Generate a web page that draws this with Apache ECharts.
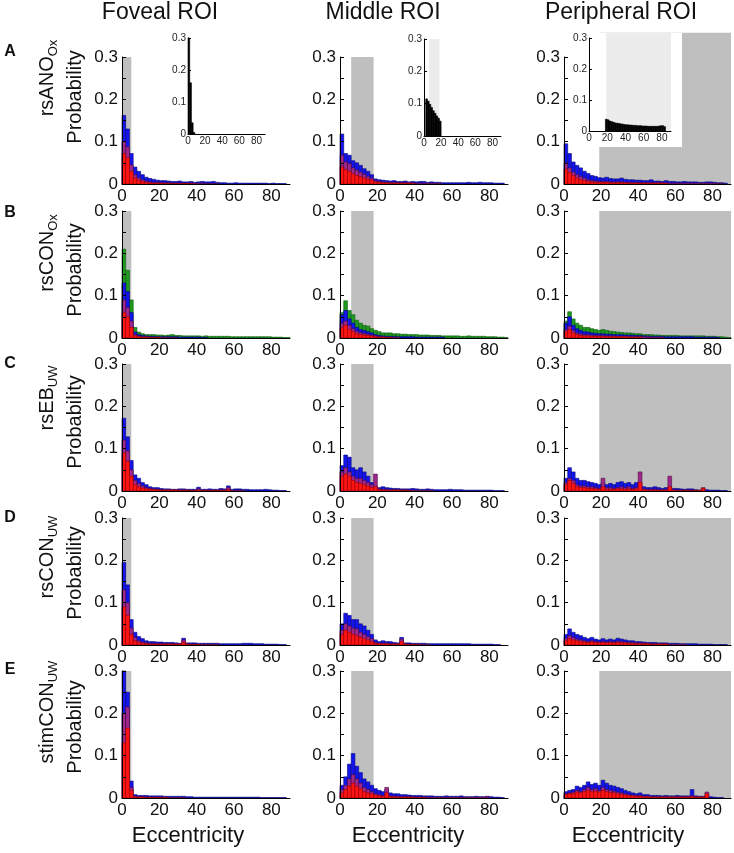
<!DOCTYPE html>
<html>
<head>
<meta charset="utf-8">
<script src="https://cdn.jsdelivr.net/npm/echarts@6/dist/echarts.min.js"></script>
<style>
html, body { margin: 0; padding: 0; background: #fff; }
#chart { width: 734px; height: 853px; }
</style>
</head>
<body>
<div id="chart"></div>
<script>
// histogram bins are 2 deg wide, values in thousandths of probability
var binW = 2;
var colTitles = ['Foveal ROI', 'Middle ROI', 'Peripheral ROI'];
var rowLetters = ['A', 'B', 'C', 'D', 'E'];
var rowNames = ['rsANO', 'rsCON', 'rsEB', 'rsCON', 'stimCON'];
var rowSubs = ['Ox', 'Ox', 'UW', 'UW', 'UW'];
var roiEdges = [[0, 5], [6, 18], [19, 90]];

var A1_blue = [162,130,72,40,30,22,16,13,11,9,8,8,7,6,6,7,5,5,6,4,5,6,5,5,6,4,3,3,2,2,3,2,2,2,2,2,2,2,2,1,2,1,1,1];
var A1_purple = [100,88,45,22,15,10,7,5,4,4,3,3,3,2,2,2,2,2,2,2,2,2,1,1,1,1];
var A1_red = [72,62,30,14,9,6,4,3,2,2,2,1,1,1,1,1,1,1,1];
var A2_blue = [118,72,68,55,50,44,36,30,22,12,10,9,8,7,8,6,6,7,5,6,5,6,6,4,5,4,4,3,3,3,3,3,3,3,4,3,3,4,3,3,3,2,2,2];
var A2_purple = [68,52,48,38,33,28,23,18,14,8,6,5,4,4,4,3,3,3,3,3,2,2,2,2,2,2,2];
var A2_red = [40,34,30,24,20,17,14,11,9,5,4,3,3,2,2,2,2,2,2,1];
var A3_blue = [95,72,52,44,38,30,25,20,18,15,14,16,13,12,12,14,11,10,10,9,9,8,8,10,7,7,6,8,6,6,5,5,6,5,5,5,4,4,5,5,4,3,3,2];
var A3_purple = [50,38,28,22,18,14,10,8,7,6,6,6,5,5,5,5,4,4,4,4,3,3,3,3,3,3,3,3,2,2,2,2,2,2,2,2,2,2,2,2,2,1,1];
var A3_red = [35,27,20,14,10,8,6,5,4,4,4,4,3,3,3,3,3,2,2,2,2,2,2,2,2,2,2,1];

var B1_green = [210,160,90,25,14,10,8,8,8,7,7,6,7,8,6,6,5,5,5,5,5,4,5,4,4,4,4,4,4,3,3,3,3,3,3,3,3,3,3,3,2,2,2,1,1];
var B1_blue = [130,110,60,14,8,6,5,4,4,3,3,3,3,3,3,2,2,2,2,2,2,1,1];
var B1_purple = [90,72,40,8,5,3,3,2,2,2,2,2,1,1,1];
var B1_red = [60,50,25,5,3,2,2,1,1,1];
var B2_green = [60,88,65,55,42,35,30,28,22,18,15,12,12,12,10,10,9,9,8,8,8,7,7,7,6,6,6,5,5,5,5,5,4,4,5,4,4,4,4,3,3,3,2,2,1];
var B2_blue = [55,65,45,35,25,20,18,15,12,8,6,5,4,4,4,3,3,3,3,3,2,2,2,2,2,2,2,2];
var B2_purple = [35,40,30,22,16,13,11,9,7,5,3,3,2,2,2,2];
var B2_red = [25,30,20,15,10,8,7,6,5,3,2,2,1,1];
var B3_green = [40,62,45,35,30,25,25,22,20,18,20,18,16,15,14,13,12,12,11,10,10,8,8,8,7,7,6,6,6,6,6,5,5,5,5,5,5,5,4,4,4,3,3,2,1];
var B3_blue = [35,50,30,22,18,15,14,12,11,10,10,9,9,8,8,8,7,7,7,6,6,5,5,4,4,4,4,3,3,3,3,3,3,3,3,2,2,2,2,2,2,1];
var B3_purple = [20,28,18,12,10,8,8,7,6,6,6,5,5,5,4,4,4,4,4,3,3,3,3,2,2,2,2];
var B3_red = [15,20,12,8,6,5,5,4,4,4,4,3,3,3,3,3,3,2,2,2,2];

var C1_blue = [172,128,72,38,30,20,15,10,8,8,6,5,5,4,4,5,5,4,4,4,9,4,4,5,4,4,6,5,12,4,5,5,4,4,3,3,3,3,4,3,2,2,1,1];
var C1_purple = [120,95,50,25,18,12,8,6,5,4,3,3,3,3,3,3,3,3,2,2,5,2,2,2,2,2,3,3,8,2,2,2,1];
var C1_red = [90,70,35,15,10,7,5,4,3,3,2,2,2,2,2,1,1,1,1,1,2,1,1,1,1,1,1,1,3];
var C2_blue = [60,85,80,55,50,55,45,35,20,12,8,10,8,7,6,6,5,5,5,6,5,4,4,5,4,3,3,3,3,4,3,3,3,2,2,2,2,2,2,2,2,1,1,1];
var C2_purple = [45,55,45,35,30,30,25,20,15,40,5,4,4,3,3,3,3,3,2,2,2,2,2,2,2];
var C2_red = [35,40,35,25,20,18,15,12,8,10,3,2,2,2,2,2,1,1,1];
var C3_blue = [30,55,45,30,25,25,22,20,18,15,20,15,18,15,20,22,18,20,15,20,18,10,8,8,10,8,6,8,8,6,6,5,4,5,5,3,2,4,3,2,2,2,1,1];
var C3_purple = [20,30,25,15,12,12,10,10,8,6,30,8,8,6,8,10,8,10,6,8,45,5,4,4,4,3,3,3,35,3,2,2,2,2,2,2,2,8];
var C3_red = [15,25,18,10,8,8,6,6,5,4,10,4,4,4,5,5,4,5,4,5,20,3,2,2,2,2,2,2,10,2,1,1,1,1,1,1,1,6];

var D1_blue = [195,142,60,30,20,15,10,8,8,7,7,6,6,6,5,4,16,5,5,5,4,4,4,4,4,4,3,3,3,3,3,3,4,4,4,3,3,3,2,2,2,2,1,1];
var D1_purple = [130,100,40,18,10,7,5,4,4,3,3,3,3,3,3,3,12,3,2,2,2,2,2,2,2,2];
var D1_red = [90,70,25,10,6,4,3,2,2,2,2,2,2,2,2,2,6,2,1,1,1];
var D2_blue = [50,75,70,60,60,50,45,35,25,12,8,10,8,8,6,5,18,5,5,4,4,4,4,3,3,3,3,3,3,3,3,3,3,3,3,2,2,2,2,2,2,1,1];
var D2_purple = [35,50,45,40,38,30,25,20,15,6,4,4,4,3,3,3,14,3,2,2,2,2,2,2];
var D2_red = [25,35,30,25,22,18,15,12,8,4,3,3,3,2,2,2,8,2,1,1,1];
var D3_blue = [25,38,30,25,22,18,15,18,14,12,15,12,14,12,16,14,12,10,10,8,8,7,6,6,6,5,5,5,4,4,4,3,3,3,3,3,2,2,2,2,1,1,1,1];
var D3_purple = [15,22,18,14,12,10,8,10,8,7,8,7,8,7,9,8,7,6,6,5,5,4,4,3,3,3,3,3,2,2,2,2,2];
var D3_red = [10,15,12,10,8,7,6,7,6,5,6,5,6,5,6,5,5,4,4,3,3,3,3,2,2,2,2,2];

var E1_blue = [300,250,40,8,6,6,6,5,5,5,5,4,4,4,4,4,4,3,3,2,2,2,2,2,2,2,2,2,2,2,2,2,2,2,2,2,2,1,1,1,1,1,1,1];
var E1_purple = [200,215,25,4,3,3,2,2,2,2,2,2,2,1,1,1,1];
var E1_red = [130,165,18,3,2,2,1,1,1,1,1,1];
var E2_blue = [30,50,80,105,75,60,45,38,30,22,18,15,20,12,10,10,8,8,7,6,6,6,5,5,5,4,4,4,5,4,4,4,5,3,3,3,4,3,3,4,3,2,2,1];
var E2_purple = [20,30,45,55,45,35,25,20,15,10,8,6,25,5,4,4,3,3,3,3,2,2,2,2,2,2,2,2,2,2,2,2,2,2,2,2,2,2,2,3];
var E2_red = [12,20,28,35,28,22,15,12,10,7,5,4,12,3,3,2,2,2,2,1,1,1,1];
var E3_blue = [15,18,20,28,25,30,38,32,35,30,42,35,30,28,25,22,18,15,12,10,12,8,8,6,6,6,5,6,5,5,6,5,5,5,20,5,4,4,8,3,2,1,1];
var E3_purple = [10,12,14,18,15,20,25,20,22,18,25,20,18,16,14,12,10,8,7,6,6,4,4,3,3,3,3,3,3,3,3,3,3,3,5,3,3,3,14];
var E3_red = [8,10,10,14,12,15,18,15,16,14,18,15,13,12,10,9,7,6,5,4,4,3,3,2,2,2,2,2,2,2,2,2,2,2,3,2,2,2,10];

// insets of row A (whole-ROI eccentricity distribution)
var inset_fov = [300,160,35,5];
var inset_mid = [0,115,108,98,88,78,70,62,55,46];
var inset_per = [0,0,0,0,0,0,0,0,0,38,36,32,30,28,26,25,24,23,22,21,20,20,19,19,18,18,17,17,17,16,16,16,15,15,15,15,15,15,16,17,17,14];

var panels = [
    [[A1_blue, A1_purple, A1_red], [A2_blue, A2_purple, A2_red], [A3_blue, A3_purple, A3_red]],
    [[B1_blue, B1_purple, B1_red], [B2_blue, B2_purple, B2_red], [B3_blue, B3_purple, B3_red]],
    [[C1_blue, C1_purple, C1_red], [C2_blue, C2_purple, C2_red], [C3_blue, C3_purple, C3_red]],
    [[D1_blue, D1_purple, D1_red], [D2_blue, D2_purple, D2_red], [D3_blue, D3_purple, D3_red]],
    [[E1_blue, E1_purple, E1_red], [E2_blue, E2_purple, E2_red], [E3_blue, E3_purple, E3_red]]
];
var greensB = [B1_green, B2_green, B3_green];
var insets = [inset_fov, inset_mid, inset_per];

var FONT = 'Arial, "Liberation Sans", sans-serif';
var colLeft = [122, 340, 564], colWidth = 168;
var rowTop = [57, 211, 364, 518, 671], rowHeight = 127;
var insetBox = [[188, 38, 77, 96], [424, 39, 77, 97], [589, 38, 82, 93]];

function histSeries(gi, values, fill, stroke, z) {
    return {
        type: 'custom', xAxisIndex: gi, yAxisIndex: gi, z: z, silent: true,
        data: values.map(function (v, i) { return [i * binW, v / 1000]; }),
        renderItem: function (params, api) {
            var h = api.value(1);
            if (!h) return null;
            var x0 = api.value(0);
            var a = api.coord([x0, 0]);
            var b = api.coord([x0 + binW, h]);
            return {
                type: 'rect',
                shape: { x: a[0], y: b[1], width: b[0] - a[0], height: a[1] - b[1] },
                style: { fill: fill, stroke: stroke, lineWidth: 0.6 }
            };
        }
    };
}

function roiSeries(gi, x0, x1, yTop, color, z) {
    return {
        type: 'custom', xAxisIndex: gi, yAxisIndex: gi, z: z, silent: true,
        data: [[x0, x1, yTop]],
        renderItem: function (params, api) {
            var a = api.coord([api.value(0), 0]);
            var b = api.coord([api.value(1), api.value(2)]);
            return {
                type: 'rect',
                shape: { x: a[0], y: b[1], width: b[0] - a[0], height: a[1] - b[1] },
                style: { fill: color }
            };
        }
    };
}

function yFmt(v) {
    var k = Math.round(v * 100);
    if (k % 10) return '';
    return k === 0 ? '0' : (k / 100).toFixed(1);
}
function xFmt(v) { return v > 80 ? '' : String(v); }

var grids = [], xAxes = [], yAxes = [], series = [];

for (var r = 0; r < 5; r++) {
    for (var c = 0; c < 3; c++) {
        var gi = grids.length;
        grids.push({ left: colLeft[c], top: rowTop[r], width: colWidth, height: rowHeight });
        xAxes.push({
            type: 'value', gridIndex: gi, min: 0, max: 90, interval: 20, z: 3,
            axisLine: { show: true, lineStyle: { color: '#000', width: 1 } },
            axisTick: { show: false }, splitLine: { show: false },
            axisLabel: { fontSize: 17, color: '#111', fontFamily: FONT, margin: 4, formatter: xFmt }
        });
        yAxes.push({
            type: 'value', gridIndex: gi, min: 0, max: 0.3, interval: 0.05, z: 3,
            axisLine: { show: true, lineStyle: { color: '#000', width: 1 } },
            axisTick: { show: true, inside: true, length: 4, lineStyle: { color: '#000' } },
            splitLine: { show: false },
            axisLabel: { fontSize: 17, color: '#111', fontFamily: FONT, margin: 4, formatter: yFmt }
        });
        var grayTop = (r === 0 && c === 2) ? 0.357 : 0.3;
        series.push(roiSeries(gi, roiEdges[c][0], roiEdges[c][1], grayTop, '#bfbfbf', 1));
        if (r === 1) series.push(histSeries(gi, greensB[c], '#1f9a1f', '#0b5a0b', 2));
        var p = panels[r][c];
        series.push(histSeries(gi, p[0], '#1414ee', '#08087a', 2));
        series.push(histSeries(gi, p[1], '#a0288c', '#4a0a40', 2));
        series.push(histSeries(gi, p[2], '#ff1414', '#9a0000', 2));
    }
}

for (var k = 0; k < 3; k++) {
    var gi = grids.length;
    var bx = insetBox[k];
    grids.push({ left: bx[0], top: bx[1], width: bx[2], height: bx[3] });
    xAxes.push({
        type: 'value', gridIndex: gi, min: 0, max: 90, interval: 20, z: 6,
        axisLine: { show: true, lineStyle: { color: '#000', width: 1 } },
        axisTick: { show: false }, splitLine: { show: false },
        axisLabel: { fontSize: 10, color: '#222', fontFamily: FONT, margin: 2, formatter: xFmt }
    });
    yAxes.push({
        type: 'value', gridIndex: gi, min: 0, max: 0.3, interval: 0.1, z: 6,
        axisLine: { show: true, lineStyle: { color: '#000', width: 1 } },
        axisTick: { show: true, inside: true, length: 3, lineStyle: { color: '#000' } },
        splitLine: { show: false },
        axisLabel: { fontSize: 10, color: '#222', fontFamily: FONT, margin: 2, formatter: yFmt }
    });
    if (k > 0) series.push(roiSeries(gi, roiEdges[k][0], roiEdges[k][1], k === 2 ? 0.316 : 0.3, '#ececec', 5));
    series.push(histSeries(gi, insets[k], '#000', '#000', 5));
}

var graphics = [];
// white background behind the peripheral inset (covers the gray ROI patch)
graphics.push({ type: 'rect', z: 4, shape: { x: 575, y: 33, width: 107, height: 114 }, style: { fill: '#fff' } });

var titleX = [160, 383, 621];
for (var c = 0; c < 3; c++) {
    graphics.push({ type: 'text', x: titleX[c], y: 13, z: 10,
        style: { text: colTitles[c], fill: '#111', font: '23px ' + FONT, align: 'center', verticalAlign: 'middle' } });
}
var eccX = [188, 408, 628];
for (var c = 0; c < 3; c++) {
    graphics.push({ type: 'text', x: eccX[c], y: 836, z: 10,
        style: { text: 'Eccentricity', fill: '#111', font: '22px ' + FONT, align: 'center', verticalAlign: 'middle' } });
}
var letterY = [52, 213, 364, 518, 670];
var nameY = [78, 253, 398, 557, 712];
var probY = [97, 270, 422, 573, 727];
for (var r = 0; r < 5; r++) {
    graphics.push({ type: 'text', x: 10, y: letterY[r], z: 10,
        style: { text: rowLetters[r], fill: '#111', font: 'bold 16px ' + FONT, align: 'center', verticalAlign: 'middle' } });
    graphics.push({ type: 'text', x: 47, y: nameY[r], rotation: Math.PI / 2, z: 10,
        style: {
            text: '{m|' + rowNames[r] + '}{s|' + rowSubs[r] + '}',
            align: 'center', verticalAlign: 'middle',
            rich: {
                m: { fontSize: 20, fontFamily: FONT, fill: '#111', lineHeight: 26 },
                s: { fontSize: 13, fontFamily: FONT, fill: '#111', lineHeight: 14, verticalAlign: 'bottom' }
            }
        } });
    graphics.push({ type: 'text', x: 75, y: probY[r], rotation: Math.PI / 2, z: 10,
        style: { text: 'Probability', fill: '#111', font: '20px ' + FONT, align: 'center', verticalAlign: 'middle' } });
}

var chart = echarts.init(document.getElementById('chart'));
chart.setOption({
    backgroundColor: '#fff',
    animation: false,
    grid: grids,
    xAxis: xAxes,
    yAxis: yAxes,
    series: series,
    graphic: { elements: graphics }
});
</script>
</body>
</html>
